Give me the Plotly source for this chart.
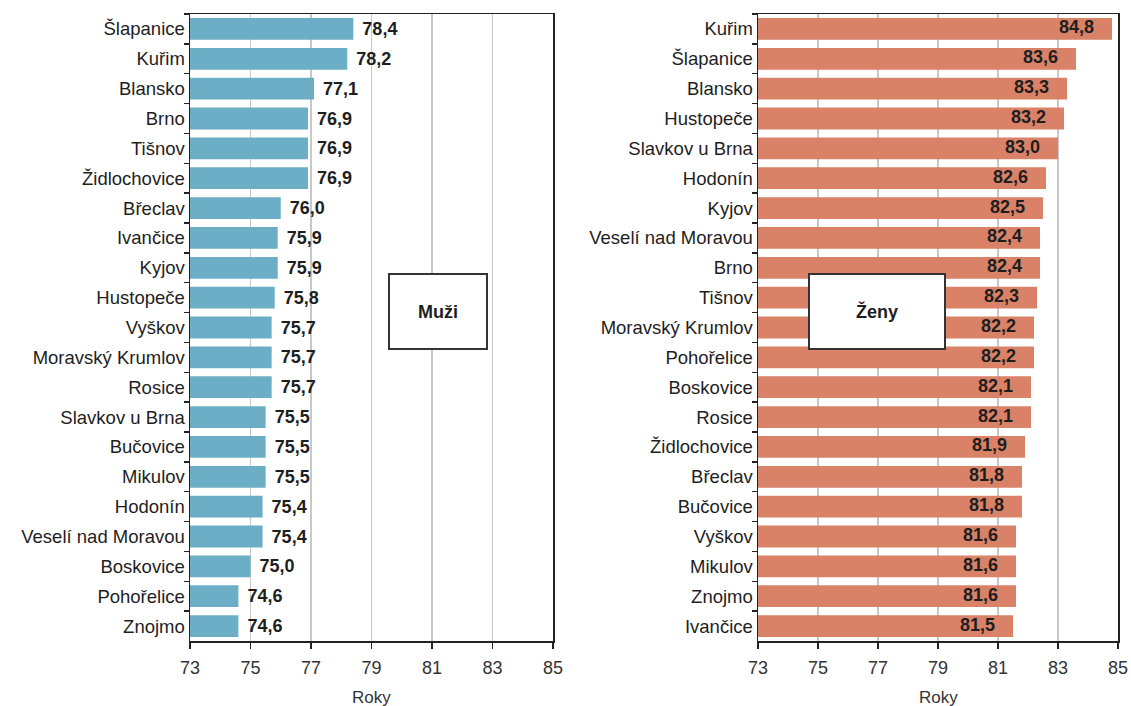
import plotly.graph_objects as go

# Data (top to bottom as shown)
men_cities = ["Šlapanice", "Kuřim", "Blansko", "Brno", "Tišnov", "Židlochovice", "Břeclav",
              "Ivančice", "Kyjov", "Hustopeče", "Vyškov", "Moravský Krumlov", "Rosice",
              "Slavkov u Brna", "Bučovice", "Mikulov", "Hodonín", "Veselí nad Moravou",
              "Boskovice", "Pohořelice", "Znojmo"]
men_values = [78.4, 78.2, 77.1, 76.9, 76.9, 76.9, 76.0, 75.9, 75.9, 75.8, 75.7, 75.7, 75.7,
              75.5, 75.5, 75.5, 75.4, 75.4, 75.0, 74.6, 74.6]

women_cities = ["Kuřim", "Šlapanice", "Blansko", "Hustopeče", "Slavkov u Brna", "Hodonín",
                "Kyjov", "Veselí nad Moravou", "Brno", "Tišnov", "Moravský Krumlov",
                "Pohořelice", "Boskovice", "Rosice", "Židlochovice", "Břeclav", "Bučovice",
                "Vyškov", "Mikulov", "Znojmo", "Ivančice"]
women_values = [84.8, 83.6, 83.3, 83.2, 83.0, 82.6, 82.5, 82.4, 82.4, 82.3, 82.2, 82.2, 82.1,
                82.1, 81.9, 81.8, 81.8, 81.6, 81.6, 81.6, 81.5]

x_ticks = [73, 75, 77, 79, 81, 83, 85]
x_title = "Roky"
panel_labels = ["Muži", "Ženy"]

FONT = "Liberation Sans, Arial, sans-serif"
TXT = "#1e1e1e"

fig = go.Figure()
fig.add_trace(go.Bar(
    y=men_cities, x=men_values, orientation="h", xaxis="x", yaxis="y",
    marker=dict(color="#6BAEC5", line=dict(width=0)),
    texttemplate="\u2004%{x:.1f}", textposition="outside", textangle=0,
    textfont=dict(family=FONT, size=18, color=TXT, weight="bold"),
    cliponaxis=False, showlegend=False, hoverinfo="skip",
))
fig.add_trace(go.Bar(
    y=women_cities, x=women_values, orientation="h", xaxis="x2", yaxis="y2",
    marker=dict(color="#D98268", line=dict(width=0)),
    showlegend=False, hoverinfo="skip",
))
# value labels inside the end of the women's bars
fig.add_trace(go.Scatter(
    y=women_cities, x=women_values, xaxis="x2", yaxis="y2", mode="text",
    texttemplate="%{x:.1f}\u2002\u2002", textposition="middle left",
    textfont=dict(family=FONT, size=18, color=TXT, weight="bold"),
    showlegend=False, hoverinfo="skip", cliponaxis=False,
))

W, H = 1131, 706
ydom = [1 - 641 / H, 1 - 14 / H]

xax = dict(range=[73, 85], tickvals=x_ticks, ticks="outside", ticklen=6, tickwidth=1.5,
           tickcolor="#222", showline=True, linecolor="#222", linewidth=1.5, mirror=True,
           showgrid=True, gridcolor="#c8c8c8", gridwidth=1.5, zeroline=False,
           tickfont=dict(family=FONT, size=18, color="#333"), ticklabelstandoff=4,
           automargin=False, fixedrange=True)
yax = dict(type="category", ticks="outside", ticklen=5, tickwidth=1.5,
           tickcolor="#222", tickson="boundaries", showline=True, linecolor="#222",
           linewidth=1.5, mirror=True, showgrid=False, automargin=False,
           tickfont=dict(family=FONT, size=18.5, color=TXT), domain=ydom, fixedrange=True)

fig.update_layout(
    width=W, height=H,
    margin=dict(l=0, r=0, t=0, b=0),
    paper_bgcolor="white", plot_bgcolor="white",
    separators=",.",
    bargap=0.27,
    hovermode=False,
    xaxis=dict(xax, domain=[190 / W, 553 / W], anchor="y"),
    yaxis=dict(yax, anchor="x", range=[len(men_cities) - 0.5, -0.5]),
    xaxis2=dict(xax, domain=[758 / W, 1118 / W], anchor="y2"),
    yaxis2=dict(yax, anchor="x2", range=[len(women_cities) - 0.5, -0.5]),
    font=dict(family=FONT),
)

# axis titles
for cx in [371, 938]:
    fig.add_annotation(x=cx / W, y=1 - 697 / H, xref="paper", yref="paper", text=x_title,
                       showarrow=False, font=dict(family=FONT, size=17, color="#333"),
                       xanchor="center", yanchor="middle")

for label, cx, w in [(panel_labels[0], 438, 96), (panel_labels[1], 877, 134)]:
    fig.add_annotation(
        x=cx / W, y=1 - 311.5 / H, xref="paper", yref="paper",
        text=f"<b>{label}</b>", showarrow=False,
        font=dict(family=FONT, size=18, color=TXT),
        bgcolor="white", bordercolor="#333", borderwidth=2, borderpad=0,
        width=w, height=73, xanchor="center", yanchor="middle",
    )

fig.write_html("out.html", config={"displayModeBar": False, "staticPlot": True},
               post_script="document.body.style.margin='0px';")
